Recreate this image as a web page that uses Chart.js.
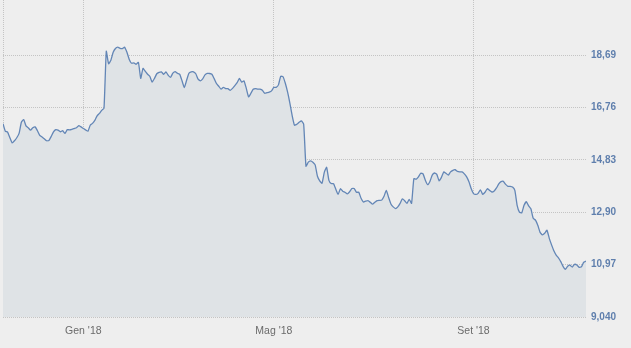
<!DOCTYPE html>
<html>
<head>
<meta charset="utf-8">
<script src="https://cdn.jsdelivr.net/npm/chart.js@4/dist/chart.umd.min.js"></script>
<style>
  html, body { margin: 0; padding: 0; background: #eeeeee; }
  #chart { display: block; }
</style>
</head>
<body>
<canvas id="chart" width="631" height="348"></canvas>
<script>
// Closing prices, one per trading session (session 0 = first session of Jan '18)
const firstSession = -35;
const lastSession = 219;
const prices = [
  16.17, 15.89, 15.86, 15.65, 15.46, 15.54, 15.65, 15.81, 16.22, 16.32,
  16.09, 16.02, 15.93, 16.02, 16.05, 15.91, 15.74, 15.68, 15.61, 15.54,
  15.55, 15.70, 15.87, 15.95, 15.93, 15.87, 15.91, 15.81, 15.95, 15.94,
  15.96, 15.99, 16.02, 16.10, 16.05,
  15.99, 15.94, 15.89, 16.11, 16.18, 16.29, 16.46, 16.55, 16.66, 16.74,
  18.84, 18.38, 18.51, 18.80, 18.94, 18.99, 18.95, 18.94, 18.99, 18.80,
  18.54, 18.40, 18.41, 18.36, 18.43, 17.84, 18.21, 18.10, 17.99, 17.91,
  17.70, 17.84, 18.01, 18.06, 18.08, 17.99, 18.08, 17.95, 17.88, 18.03,
  18.09, 18.03, 17.99, 17.75, 17.50, 17.77, 18.03, 18.08, 18.08, 18.01,
  17.81, 17.75, 17.82, 17.97, 18.02, 18.02, 17.99, 17.83, 17.65, 17.55,
  17.44, 17.51, 17.46, 17.46, 17.40, 17.47, 17.57, 17.68, 17.84, 17.70,
  17.75, 17.47, 17.16, 17.29, 17.44, 17.46, 17.44, 17.44, 17.40, 17.29,
  17.31, 17.33, 17.38, 17.51, 17.51, 17.60, 17.92, 17.90, 17.66, 17.33,
  16.92, 16.46, 16.11, 16.15, 16.22, 16.27, 16.15, 14.60, 14.75, 14.80,
  14.75, 14.65, 14.23, 14.06, 13.97, 14.38, 14.56, 14.08, 13.96, 13.96,
  13.75, 13.56, 13.77, 13.68, 13.64, 13.58, 13.66, 13.78, 13.78, 13.64,
  13.64, 13.42, 13.28, 13.31, 13.33, 13.27, 13.20, 13.27, 13.33, 13.34,
  13.35, 13.49, 13.71, 13.45, 13.21, 13.10, 13.04, 13.10, 13.23, 13.40,
  13.33, 13.23, 13.38, 13.23, 14.14, 14.12, 14.21, 14.34, 14.32, 14.08,
  13.92, 14.04, 14.27, 14.35, 14.30, 14.06, 14.19, 14.39, 14.34, 14.27,
  14.39, 14.45, 14.47, 14.41, 14.39, 14.39, 14.32, 14.21, 14.03, 13.77,
  13.59, 13.56, 13.60, 13.73, 13.56, 13.64, 13.77, 13.71, 13.65, 13.69,
  13.80, 13.95, 14.03, 14.04, 13.93, 13.86, 13.86, 13.83, 13.71, 13.16,
  12.91, 12.88, 13.16, 13.29, 13.14, 13.03, 12.68, 12.61, 12.42, 12.16,
  12.07, 12.13, 12.24, 11.94, 11.70, 11.48, 11.32, 11.22, 11.08, 10.91,
  10.80, 10.91, 10.95, 10.88, 10.98, 10.96, 10.87, 10.89, 11.06, 11.10
];

// x axis: month starts (session index) and their labels
const monthTicks = [0, 83, 170];
const monthLabels = ["Gen '18", "Mag '18", "Set '18"];

// y axis: grid levels and labels as shown
const yTicks = [9.04, 10.97, 12.90, 14.83, 16.76, 18.69];
const yLabels = ["9,040", "10,97", "12,90", "14,83", "16,76", "18,69"];
const yMax = 20.73;

const points = prices.map((p, i) => ({ x: firstSession + i, y: p }));

// tick labels must not push the plot area inwards
function noLabelPadding(scale) {
  scale.paddingLeft = 0;
  scale.paddingRight = 0;
  scale.paddingTop = 0;
  scale.paddingBottom = 0;
}

new Chart(document.getElementById("chart"), {
  type: "line",
  data: {
    datasets: [{
      data: points,
      borderColor: "#6386b6",
      borderWidth: 1.3,
      backgroundColor: "#dfe3e6",
      fill: "start",
      pointRadius: 0,
      tension: 0.15
    }]
  },
  options: {
    responsive: false,
    animation: false,
    devicePixelRatio: 1,
    layout: { padding: { left: 3, top: 0, right: 0, bottom: 0 } },
    plugins: { legend: { display: false }, tooltip: { enabled: false } },
    scales: {
      x: {
        type: "linear",
        min: firstSession,
        max: lastSession,
        afterBuildTicks: (scale) => {
          scale.ticks = [{ value: firstSession }].concat(monthTicks.map((v) => ({ value: v })));
        },
        afterFit: (scale) => { scale.height = 31; noLabelPadding(scale); },
        grid: { color: "#c4c4c4", lineWidth: 1, drawTicks: false },
        border: { display: false, dash: [1, 1] },
        ticks: {
          autoSkip: false,
          maxRotation: 0,
          padding: 8,
          color: "#6b6b6b",
          font: { family: "'Liberation Sans', Arial, sans-serif", size: 10.5 },
          callback: (v) => {
            const k = monthTicks.indexOf(v);
            return k >= 0 ? monthLabels[k] : "";
          }
        }
      },
      y: {
        position: "right",
        min: yTicks[0],
        max: yMax,
        afterBuildTicks: (scale) => {
          scale.ticks = yTicks.map((v) => ({ value: v }));
        },
        afterFit: (scale) => { scale.width = 45; noLabelPadding(scale); },
        grid: { drawTicks: false, lineWidth: 1, color: "#c4c4c4" },
        border: { display: false, dash: [1, 1] },
        ticks: {
          padding: 5,
          color: "#5f7fad",
          font: { family: "'Liberation Sans', Arial, sans-serif", size: 10, weight: "bold" },
          callback: (v, i) => yLabels[i]
        }
      }
    }
  }
});
</script>
</body>
</html>
